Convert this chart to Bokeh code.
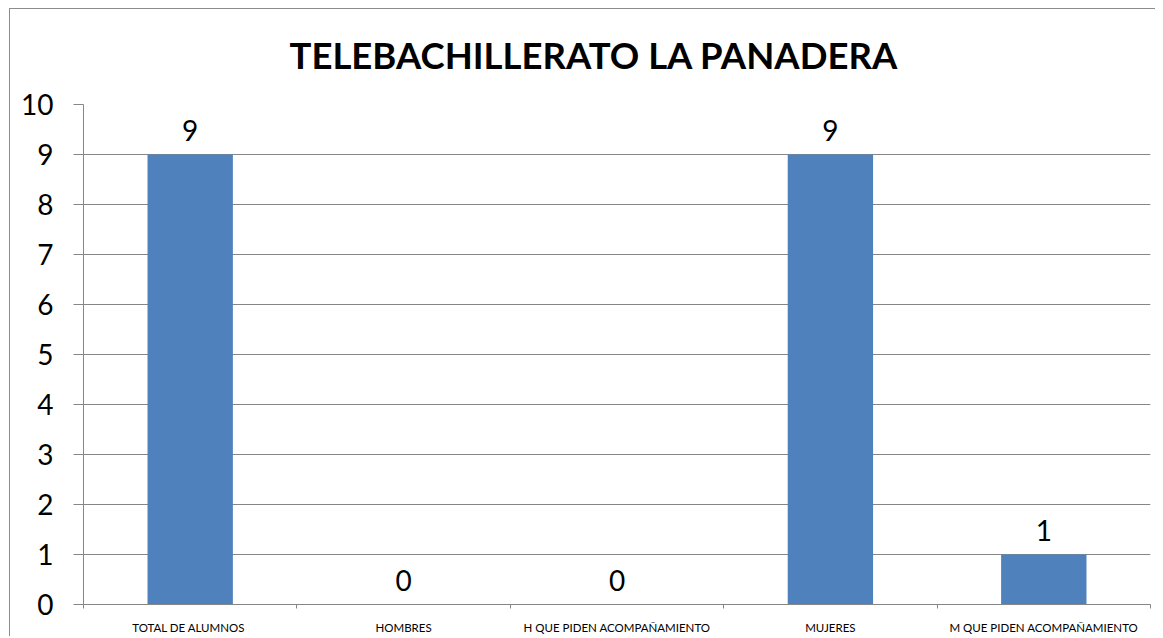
from bokeh.plotting import figure
from bokeh.models import ColumnDataSource, LabelSet, LinearAxis, FixedTicker, Range1d, Grid
from bokeh.core.properties import value
from bokeh.embed import file_html
from bokeh.resources import INLINE

categories = ["TOTAL  DE ALUMNOS", "HOMBRES", "H QUE PIDEN ACOMPAÑAMIENTO",
              "MUJERES", "M QUE PIDEN ACOMPAÑAMIENTO"]
values = [9, 0, 0, 9, 1]
y_ticks = [0, 1, 2, 3, 4, 5, 6, 7, 8, 9, 10]
title_text = "TELEBACHILLERATO LA PANADERA"

BAR = "#4F81BD"
GRAY = "#868686"
FONT = "Lato"

src = ColumnDataSource(dict(cat=categories, val=values, lab=[str(v) for v in values]))

p = figure(x_range=categories, y_range=Range1d(0, 10),
           frame_width=1067, frame_height=500,
           min_border_left=83, min_border_right=5, min_border_top=104, min_border_bottom=26,
           x_axis_location=None, toolbar_location=None, output_backend="svg",
           background_fill_color="white", border_fill_color=None)
p.styles = {
    "background": ("linear-gradient(#8c8c8c,#8c8c8c) 9px 8px / 1px 100% no-repeat, "
                   "linear-gradient(#8c8c8c,#8c8c8c) 9px 8px / 100% 1px no-repeat, white"),
}
p.outline_line_color = None

p.title.text = title_text
p.title.align = "left"
p.title.offset = 206
p.title.standoff = 55
p.title.text_font = FONT
p.title.text_font_style = "bold"
p.title.text_font_size = "36.5px"
p.title.text_color = "black"

p.vbar(x="cat", top="val", width=0.4, source=src, fill_color=BAR, line_color=None)

labels = LabelSet(x="cat", y="val", text="lab", source=src, text_align="center",
                  text_baseline="alphabetic", y_offset=14, text_font=value(FONT),
                  text_font_size="28px", text_color="black")
p.add_layout(labels)

# y axis
yax = p.yaxis[0]
yax.ticker = FixedTicker(ticks=y_ticks)
yax.axis_line_color = GRAY
yax.major_tick_line_color = GRAY
yax.major_tick_out = 10
yax.major_tick_in = 0
yax.minor_tick_line_color = None
yax.major_label_text_font = FONT
yax.major_label_text_font_size = "28px"
yax.major_label_text_color = "black"
yax.major_label_standoff = 20

for r in p.center:
    if isinstance(r, Grid):
        if r.dimension == 0:
            r.visible = False
        else:
            r.grid_line_color = GRAY
            r.ticker = FixedTicker(ticks=y_ticks)

# x axis: labels at category centres, small tick marks at the boundaries between them
centres = [i + 0.5 for i in range(len(categories))]
bounds = list(range(len(categories) + 1))
xax = LinearAxis(ticker=FixedTicker(ticks=centres, minor_ticks=bounds),
                 major_label_overrides={c: name for c, name in zip(centres, categories)},
                 major_tick_line_color=None, major_tick_out=0, major_tick_in=0,
                 minor_tick_line_color=GRAY, minor_tick_out=4, minor_tick_in=0,
                 axis_line_color=GRAY,
                 major_label_text_font=FONT, major_label_text_font_size="11.5px",
                 major_label_text_color="black", major_label_standoff=12)
p.add_layout(xax, "below")

open("out.html", "w").write(file_html(p, INLINE))
